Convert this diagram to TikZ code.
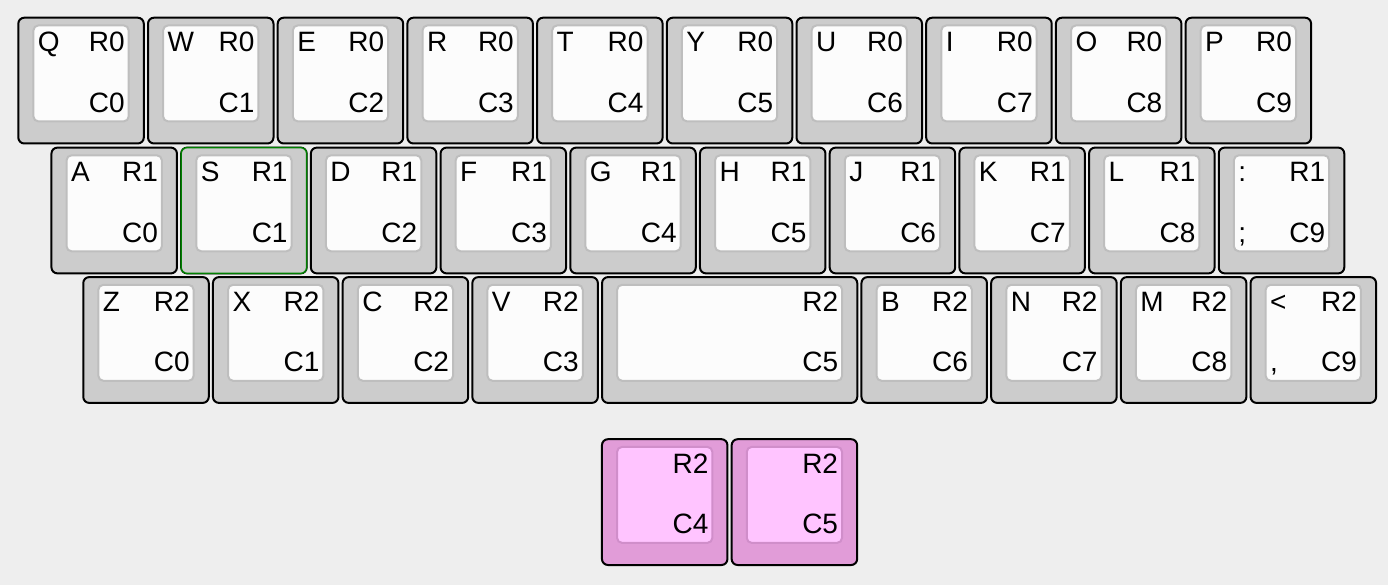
\documentclass[tikz,border=0pt]{standalone}
\usepackage{fontspec}
\setmainfont{Liberation Sans}
\usetikzlibrary{positioning}
\definecolor{KBback}{RGB}{238,238,238}
\definecolor{KBcap}{RGB}{204,204,204}
\definecolor{KBtop}{RGB}{252,252,252}
\definecolor{KBrim}{RGB}{190,190,190}
\definecolor{KBpink}{RGB}{225,156,216}
\definecolor{KBpinktop}{RGB}{255,196,255}
\definecolor{KBpinkrim}{RGB}{208,142,202}
\definecolor{KBgreen}{RGB}{0,128,0}
\tikzset{
  keycap/.style={rectangle, rounded corners=6pt, draw=black, line width=2pt, fill=KBcap,
    minimum width=125.5pt, minimum height=125.8pt, inner sep=0pt, outer sep=0pt},
  spacecap/.style={keycap, minimum width=255.2pt},
  thumbcap/.style={keycap, fill=KBpink},
  keytop/.style={rectangle, rounded corners=5pt, draw=KBrim, line width=2pt, fill=KBtop,
    minimum width=95.3pt, minimum height=96pt, inner sep=0pt, outer sep=0pt},
  spacetop/.style={keytop, minimum width=225pt},
  thumbtop/.style={keytop, draw=KBpinkrim, fill=KBpinktop},
  lgd/.style={inner sep=0pt, outer sep=0pt, font=\fontsize{28}{32}\selectfont},
}

\begin{document}
\begin{tikzpicture}[x=1pt, y=-1pt]
    \useasboundingbox (0,0) rectangle (1388,585);
    \fill[KBback] (0,0) rectangle (1388,585);
    % top row
    \foreach \lg [count=\c from 0] in {Q,W,E,R,T,Y,U,I,O,P} {
      \node[keycap] (q\c) at ({81.05+\c*129.7},80.6) {};
      \node[keytop] (qt\c) at ([yshift=7.2pt]q\c.center) {};
      \node[lgd, anchor=base west] (ql\c) at ([xshift=4.5pt, yshift=-26.4pt]qt\c.north west) {\lg};
      \node[lgd, anchor=base east] (qr\c) at ([xshift=-4pt, yshift=-26.4pt]qt\c.north east) {R0};
      \node[lgd, anchor=base east] (qc\c) at ([xshift=-4pt, yshift=9pt]qt\c.south east) {C\c};
    }
    % home row
    \foreach \lg [count=\c from 0] in {A,S,D,F,G,H,J,K,L} {
      \node[keycap] (a\c) at ({114.2+\c*129.7},210.5) {};
      \node[keytop] (at\c) at ([yshift=7.2pt]a\c.center) {};
      \node[lgd, anchor=base west] (al\c) at ([xshift=4.5pt, yshift=-26.4pt]at\c.north west) {\lg};
      \node[lgd, anchor=base east] (ar\c) at ([xshift=-4pt, yshift=-26.4pt]at\c.north east) {R1};
      \node[lgd, anchor=base east] (ac\c) at ([xshift=-4pt, yshift=9pt]at\c.south east) {C\c};
    }
    \node[keycap, draw=KBgreen, line width=1.5pt] at (a1) {};
    \node[keytop] at (at1) {};
    \node[lgd, anchor=base west] at (al1.base west) {S};
    \node[lgd, anchor=base east] at (ar1.base east) {R1};
    \node[lgd, anchor=base east] at (ac1.base east) {C1};
    \node[keycap] (a9) at ({114.2+9*129.7},210.5) {};
    \node[keytop] (at9) at ([yshift=7.2pt]a9.center) {};
    \node[lgd, anchor=base west] (al9) at ([xshift=4.5pt, yshift=-26.4pt]at9.north west) {:};
    \node[lgd, anchor=base east] (ar9) at ([xshift=-4pt, yshift=-26.4pt]at9.north east) {R1};
    \node[lgd, anchor=base west] (ab9) at ([xshift=4.5pt, yshift=9pt]at9.south west) {;};
    \node[lgd, anchor=base east] (ac9) at ([xshift=-4pt, yshift=9pt]at9.south east) {C9};
    % bottom row
    \foreach \lg/\c in {Z/0,X/1,C/2,V/3,B/6,N/7,M/8} {
      \node[keycap] (z\c) at ({146.0+\c*129.7},340.0) {};
      \node[keytop] (zt\c) at ([yshift=7.2pt]z\c.center) {};
      \node[lgd, anchor=base west] (zl\c) at ([xshift=4.5pt, yshift=-26.4pt]zt\c.north west) {\lg};
      \node[lgd, anchor=base east] (zr\c) at ([xshift=-4pt, yshift=-26.4pt]zt\c.north east) {R2};
      \node[lgd, anchor=base east] (zc\c) at ([xshift=-4pt, yshift=9pt]zt\c.south east) {C\c};
    }
    \node[spacecap] (space) at ({146.0+4*129.7+64.85},340.0) {};
    \node[spacetop] (spacet) at ([yshift=7.2pt]space.center) {};
    \node[lgd, anchor=base east] (spacer) at ([xshift=-4pt, yshift=-26.4pt]spacet.north east) {R2};
    \node[lgd, anchor=base east] (spacec) at ([xshift=-4pt, yshift=9pt]spacet.south east) {C5};
    \node[keycap] (z9) at ({146.0+9*129.7},340.0) {};
    \node[keytop] (zt9) at ([yshift=7.2pt]z9.center) {};
    \node[lgd, anchor=base west] (zl9) at ([xshift=4.5pt, yshift=-26.4pt]zt9.north west) {<};
    \node[lgd, anchor=base east] (zr9) at ([xshift=-4pt, yshift=-26.4pt]zt9.north east) {R2};
    \node[lgd, anchor=base west] (zb9) at ([xshift=4.5pt, yshift=9pt]zt9.south west) {,};
    \node[lgd, anchor=base east] (zc9) at ([xshift=-4pt, yshift=9pt]zt9.south east) {C9};
    % thumb keys
    \foreach \c [count=\i] in {4,5} {
      \node[thumbcap] (th\c) at ({600.95+(\i-1)*129.7+63.75},502.1) {};
      \node[thumbtop] (tht\c) at ([yshift=7.2pt]th\c.center) {};
      \node[lgd, anchor=base east] (thr\c) at ([xshift=-4pt, yshift=-26.4pt]tht\c.north east) {R2};
      \node[lgd, anchor=base east] (thc\c) at ([xshift=-4pt, yshift=9pt]tht\c.south east) {C\c};
    }
  \end{tikzpicture}
\end{document}
